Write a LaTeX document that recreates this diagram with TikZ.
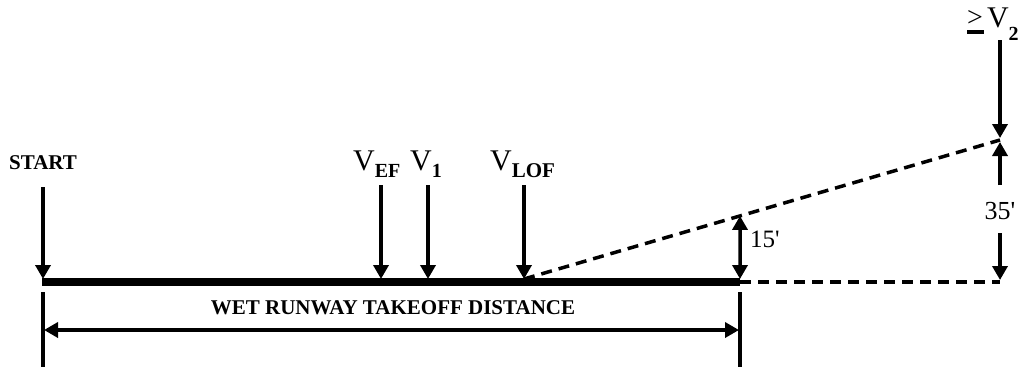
\documentclass[tikz,border=0pt]{standalone}
\usepackage{fontspec}
\setmainfont{Liberation Serif}
\usetikzlibrary{arrows.meta,calc}
\begin{document}
\begin{tikzpicture}[x=1pt,y=-1pt,
  tip/.style={-{Triangle[width=15pt,length=14pt]}},
  twotip/.style={{Triangle[width=15pt,length=14pt]}-{Triangle[width=15pt,length=14pt]}},
  shaft/.style={line width=3.5pt},
  lbl/.style={inner sep=0pt, anchor=base west},
  dsh/.style={line width=3.5pt, dash pattern=on 11pt off 7pt},
  capt/.style={inner sep=0pt, font=\bfseries\fontsize{21}{21}\selectfont}]
\useasboundingbox (0,0) rectangle (1027,367);
% runway
\coordinate (rs) at (42,282);
\coordinate (re) at (740,282);
\draw[line width=7.5pt] (rs) -- (re);
% START
\node[capt] (start) at (43,163) {START};
\coordinate (sa) at (43,187);
\coordinate (sb) at (43,279);
\draw[shaft,tip] (sa) -- (sb);
% V labels
\node[lbl] (vef) at (353,170) {\fontsize{30}{30}\selectfont V\raisebox{-7pt}{\fontsize{20}{20}\selectfont\bfseries EF}};
\node[lbl] (vone) at (410,170) {\fontsize{30}{30}\selectfont V\raisebox{-7pt}{\fontsize{20}{20}\selectfont\bfseries 1}};
\node[lbl] (vlof) at (490,170) {\fontsize{30}{30}\selectfont V\raisebox{-7pt}{\fontsize{21}{21}\selectfont\bfseries LOF}};
\coordinate (efa) at (381,185); \coordinate (efb) at (381,279);
\coordinate (v1a) at (428,185); \coordinate (v1b) at (428,279);
\coordinate (lofa) at (524,185); \coordinate (lof) at (524,279);
\draw[shaft,tip] (efa) -- (efb);
\draw[shaft,tip] (v1a) -- (v1b);
\draw[shaft,tip] (lofa) -- (lof);
% climb path
\coordinate (p35) at (1000,140);
\coordinate (p15) at ($(lof)!0.4538!(p35)$);
\draw[dsh] (lof) -- (p35);
\coordinate (rg) at (1000,282);
\draw[dsh] (re) -- (rg);
% 15 ft
\coordinate (b15) at (740,279);
\draw[shaft,twotip] (b15) -- (p15);
\node[lbl, font=\fontsize{25}{25}\selectfont] (t15) at (750,247) {15\textquotesingle};
% V2
\node[lbl] (vtwo) at (967,27) {\raisebox{1pt}{\rlap{\rule[-7.5pt]{17pt}{3.5pt}}\fontsize{28}{28}\selectfont >}\hspace{4pt}\fontsize{30}{30}\selectfont V\raisebox{-13pt}{\fontsize{20}{20}\selectfont\bfseries 2}};
\coordinate (v2a) at (1000,40);
\coordinate (v2b) at (1000,138);
\draw[shaft,tip] (v2a) -- (v2b);
% 35 ft
\node[inner sep=0pt, font=\fontsize{26}{26}\selectfont] (t35) at (1000,211) {35\textquotesingle};
\coordinate (u35a) at (1000,185); \coordinate (u35b) at (1000,142);
\coordinate (d35a) at (1000,233); \coordinate (d35b) at (1000,280);
\draw[shaft,tip] (u35a) -- (u35b);
\draw[shaft,tip] (d35a) -- (d35b);
% dimension
\coordinate (tl1) at (43,292); \coordinate (tl2) at (43,367);
\coordinate (tr1) at (740,292); \coordinate (tr2) at (740,367);
\draw[shaft] (tl1) -- (tl2);
\draw[shaft] (tr1) -- (tr2);
\coordinate (dl) at (44,330); \coordinate (dr) at (739,330);
\draw[shaft,twotip] (dl) -- (dr);
\node[capt] (dist) at (393,307.5) {WET RUNWAY TAKEOFF DISTANCE};
\end{tikzpicture}
\end{document}
